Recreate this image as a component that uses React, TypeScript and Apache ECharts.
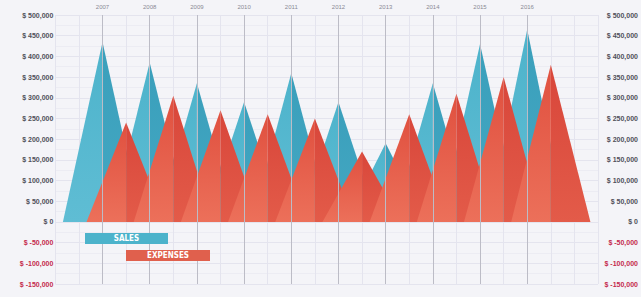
import React, { useEffect, useRef } from "react";
import * as echarts from "echarts";

const years = [2007, 2008, 2009, 2010, 2011, 2012, 2013, 2014, 2015, 2016];
const sales = [435000, 385000, 335000, 290000, 360000, 290000, 190000, 335000, 430000, 465000];
const expenses = [240000, 305000, 270000, 260000, 250000, 170000, 260000, 310000, 350000, 380000];
const legendLabels = ["SALES", "EXPENSES"];

const HALF = 0.84;

function lg(stops: [number, string][]) {
  return new echarts.graphic.LinearGradient(0, 0, 0, 1, stops.map(([offset, color]) => ({ offset, color })));
}

function makeRender(leftFill: () => any, rightFill: () => any) {
  return (params: any, api: any) => {
    const x = api.value(0);
    const v = api.value(1);
    const peak = api.coord([x, v]);
    const l = api.coord([x - HALF, 0]);
    const r = api.coord([x + HALF, 0]);
    const m = api.coord([x, 0]);
    return {
      type: "group",
      children: [
        { type: "polygon", shape: { points: [l, peak, m] }, style: { fill: leftFill() } },
        { type: "polygon", shape: { points: [m, peak, r] }, style: { fill: rightFill() } },
      ],
    };
  };
}

const fmt = (v: number) => "$ " + v.toLocaleString("en-US");

export default function App() {
  const ref = useRef<HTMLDivElement>(null);
  useEffect(() => {
    if (!ref.current) return;
    const chart = echarts.init(ref.current, null, { renderer: "svg" });
    const labelColor = (v: any) => (Number(v) < 0 ? "#c42a4c" : "#50505a");
    chart.setOption({
      animation: false,
      backgroundColor: "#f4f4f8",
      grid: { left: 55.33, right: 37.5, top: 15, bottom: 13 },
      xAxis: {
        type: "value",
        position: "top",
        min: 2006,
        max: 2017.5,
        interval: 0.5,
        axisLine: { show: false },
        axisTick: { show: false },
        axisLabel: {
          fontSize: 6,
          color: "#8a8a95",
          margin: 5,
          fontFamily: "Liberation Sans",
          formatter: (v: number) => (Number.isInteger(v) && years.includes(v) ? String(v) : ""),
        },
        splitLine: { show: true, lineStyle: { color: "#e4e4ee", width: 1 } },
      },
      yAxis: [
        {
          type: "value",
          min: -150000,
          max: 500000,
          interval: 50000,
          axisLine: { show: false },
          axisTick: { show: false },
          axisLabel: {
            fontSize: 7,
            fontWeight: "bold",
            fontFamily: "Liberation Sans",
            margin: 2,
            color: labelColor,
            formatter: fmt,
          },
          splitLine: { show: true, lineStyle: { color: "#e4e4ee", width: 1 } },
          minorTick: { show: false, splitNumber: 2 },
          minorSplitLine: { show: true, lineStyle: { color: "#ececf3", width: 1 } },
        },
        {
          type: "value",
          position: "right",
          min: -150000,
          max: 500000,
          interval: 50000,
          axisLine: { show: false },
          axisTick: { show: false },
          axisLabel: {
            fontSize: 7,
            fontWeight: "bold",
            fontFamily: "Liberation Sans",
            margin: 40,
            align: "right",
            color: labelColor,
            formatter: fmt,
          },
          splitLine: { show: false },
        },
      ],
      series: [
        {
          type: "line",
          data: [],
          z: 1,
          silent: true,
          markLine: {
            silent: true,
            symbol: "none",
            label: { show: false },
            lineStyle: { color: "#bcbcc6", width: 1, type: "solid" },
            data: years.map((y) => ({ xAxis: y })),
          },
        },
        {
          name: "Sales",
          type: "custom",
          z: 2,
          renderItem: makeRender(
            () => lg([[0, "#4db3cb"], [1, "#5fbdd4"]]),
            () => lg([[0, "#3a9fbb"], [1, "#44a8c3"]])
          ),
          encode: { x: 0, y: 1 },
          data: years.map((y, i) => [y, sales[i]]),
        },
        {
          name: "Expenses",
          type: "custom",
          z: 3,
          renderItem: makeRender(
            () => lg([[0, "#e0503f"], [1, "#ec705a"]]),
            () => lg([[0, "#d8463a"], [1, "#e35b49"]])
          ),
          encode: { x: 0, y: 1 },
          data: years.map((y, i) => [y + 0.5, expenses[i]]),
        },
      ],
      graphic: [
        {
          type: "rect",
          shape: { x: 85, y: 233, width: 83, height: 11 },
          style: { fill: "#4cb3cb" },
          z: 10,
        },
        {
          type: "text",
          x: 126.5,
          y: 238.5,
          style: {
            text: legendLabels[0],
            fill: "#ffffff",
            font: "bold 8px 'DejaVu Sans Condensed'",
            align: "center",
            verticalAlign: "middle",
          },
          z: 11,
        },
        {
          type: "rect",
          shape: { x: 126, y: 250, width: 84, height: 11 },
          style: { fill: "#e0604d" },
          z: 10,
        },
        {
          type: "text",
          x: 168,
          y: 255.5,
          style: {
            text: legendLabels[1],
            fill: "#ffffff",
            font: "bold 8px 'DejaVu Sans Condensed'",
            align: "center",
            verticalAlign: "middle",
          },
          z: 11,
        },
      ],
    });
    return () => chart.dispose();
  }, []);
  return (
    <div
      ref={ref}
      style={{ position: "fixed", left: 0, top: 0, width: 641, height: 297 }}
    />
  );
}
